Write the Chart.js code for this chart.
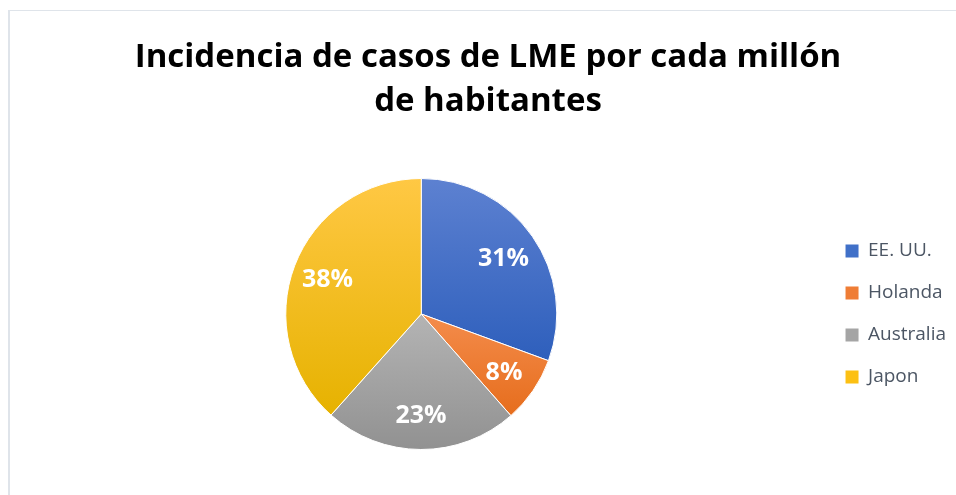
<!DOCTYPE html>
<html>
<head>
<meta charset="utf-8">
<script src="https://cdn.jsdelivr.net/npm/chart.js@4/dist/chart.umd.min.js"></script>
<style>
  html, body { margin: 0; padding: 0; background: #ffffff; overflow: hidden; }
  #frame { position: absolute; left: 8px; top: 10px; width: 1000px; height: 600px;
           border-left: 2px solid #dfe4ea; border-top: 1px solid #dfe4ea; }
  #wrap { position: absolute; left: 0; top: 0; width: 956px; height: 495px; }
</style>
</head>
<body>
<div id="frame"></div>
<div id="wrap"><canvas id="c" width="956" height="495"></canvas></div>
<script>
const titleLines = ['Incidencia de casos de LME por cada millón', 'de habitantes'];
const categories = ['EE. UU.', 'Holanda', 'Australia', 'Japon'];
const values = [30.6, 7.9, 23.1, 38.4];
const topColors = ['#5d81d1', '#f48c4c', '#b4b4b4', '#ffc844'];
const bottomColors = ['#2e5fbc', '#e66d1c', '#919191', '#e6b200'];
const swatchColors = ['#4070c8', '#ef7d35', '#a5a5a5', '#fcc013'];

const total = values.reduce((a, b) => a + b, 0);

function sliceGradient(context) {
  const chart = context.chart;
  const area = chart.chartArea;
  const i = context.dataIndex;
  if (!area || i === undefined) return swatchColors[i] || '#999';
  const cx = (area.left + area.right) / 2;
  const cy = (area.top + area.bottom) / 2;
  const r = Math.min(area.right - area.left, area.bottom - area.top) / 2;
  let cum = 0;
  for (let k = 0; k < i; k++) cum += values[k];
  const a0 = -Math.PI / 2 + 2 * Math.PI * cum / total;
  const a1 = a0 + 2 * Math.PI * values[i] / total;
  const ys = [cy, cy + r * Math.sin(a0), cy + r * Math.sin(a1)];
  [Math.PI / 2, 3 * Math.PI / 2, -Math.PI / 2].forEach(a => {
    if (a >= a0 && a <= a1) ys.push(cy + r * Math.sin(a));
  });
  const y0 = Math.min(...ys), y1 = Math.max(...ys);
  const g = chart.ctx.createLinearGradient(0, y0, 0, y1);
  g.addColorStop(0, topColors[i]);
  g.addColorStop(1, bottomColors[i]);
  return g;
}

const pctLabels = {
  id: 'pctLabels',
  afterDatasetsDraw(chart) {
    const ctx = chart.ctx;
    const meta = chart.getDatasetMeta(0);
    ctx.save();
    ctx.font = 'bold 25px "Open Sans", sans-serif';
    ctx.fillStyle = '#ffffff';
    ctx.textAlign = 'center';
    ctx.textBaseline = 'middle';
    meta.data.forEach((arc, i) => {
      const p = arc.getProps(['x', 'y', 'startAngle', 'endAngle', 'outerRadius'], true);
      const mid = (p.startAngle + p.endAngle) / 2;
      const d = p.outerRadius * 0.74;
      const txt = Math.round(values[i] / total * 100) + '%';
      ctx.fillText(txt, p.x + Math.cos(mid) * d, p.y + Math.sin(mid) * d + 2);
    });
    ctx.restore();
  }
};

new Chart(document.getElementById('c'), {
  type: 'pie',
  data: {
    labels: categories,
    datasets: [{
      data: values,
      backgroundColor: sliceGradient,
      borderColor: '#ffffff',
      borderWidth: 1,
      hoverOffset: 0
    }]
  },
  options: {
    responsive: false,
    animation: false,
    devicePixelRatio: 1,
    layout: { padding: { left: 20, right: 0, top: 0, bottom: 45 } },
    plugins: {
      tooltip: { enabled: false },
      title: {
        display: true,
        text: titleLines,
        color: '#000000',
        font: { family: '"Open Sans", sans-serif', size: 33, weight: 'bold', lineHeight: 44 / 33 },
        padding: { top: 36, bottom: 54 }
      },
      legend: {
        position: 'right',
        fullSize: false,
        maxWidth: 134,
        labels: {
          boxWidth: 13,
          boxHeight: 13,
          padding: 23,
          color: '#4c5664',
          font: { family: '"Open Sans", sans-serif', size: 19 },
          generateLabels(chart) {
            return categories.map((c, i) => ({
              text: c, fillStyle: swatchColors[i], strokeStyle: swatchColors[i],
              lineWidth: 0, hidden: false, index: i, fontColor: '#4c5664'
            }));
          }
        }
      }
    }
  },
  plugins: [pctLabels]
});
</script>
</body>
</html>
